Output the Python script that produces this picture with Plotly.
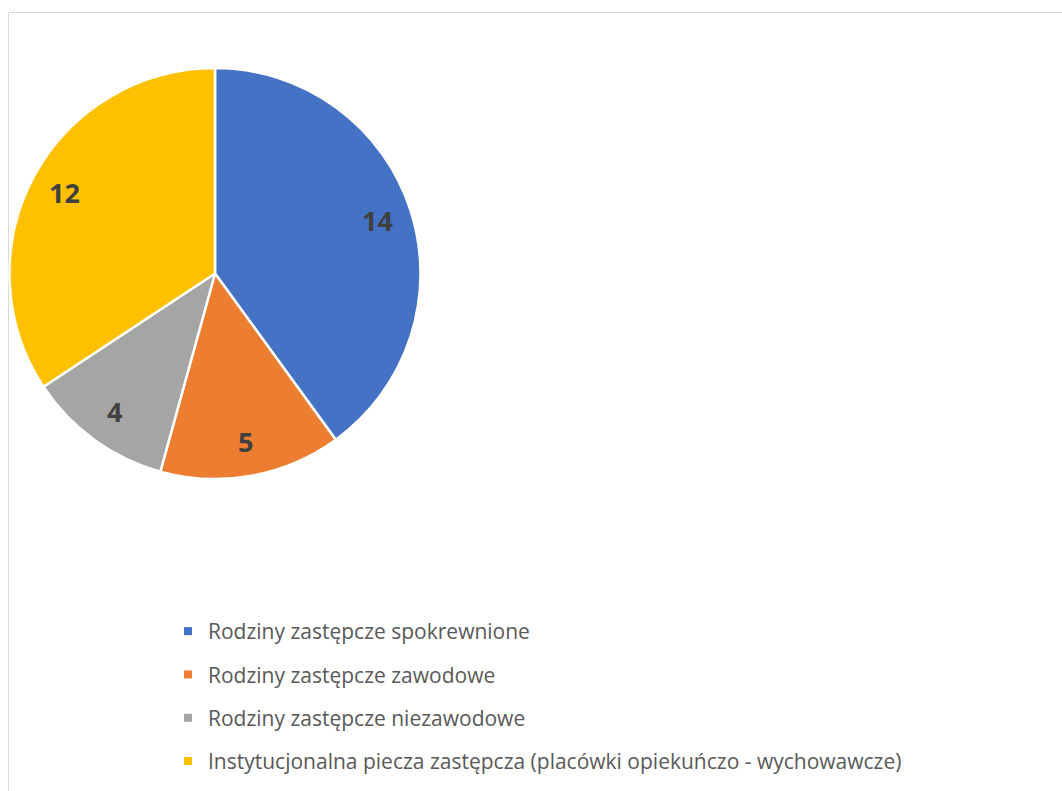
import math
import plotly.graph_objects as go

# Struktura pieczy zastępczej
categories = [
    "Rodziny zastępcze spokrewnione",
    "Rodziny zastępcze zawodowe",
    "Rodziny zastępcze niezawodowe",
    "Instytucjonalna piecza zastępcza (placówki opiekuńczo - wychowawcze)",
]
values = [14, 5, 4, 12]
colors = ["#4472C4", "#ED7D31", "#A5A5A5", "#FFC000"]

W, H = 1062, 791

# pie box in pixels (left, right, top, bottom)
PL, PR, PT, PB = 9, 421, 68, 479
CX, CY = (PL + PR) / 2, (PT + PB) / 2
R = (PR - PL) / 2

fig = go.Figure()

fig.add_trace(go.Pie(
    labels=categories,
    values=values,
    sort=False,
    direction="clockwise",
    rotation=0,
    marker=dict(colors=colors, line=dict(color="white", width=2.5)),
    textinfo="none",
    showlegend=False,
    hoverinfo="label+value",
    domain=dict(x=[PL / W, PR / W], y=[(H - PB) / H, (H - PT) / H]),
))

# value labels placed toward the outer edge of each slice
total = sum(values)
cum = 0
annotations = []
for v in values:
    mid = 2 * math.pi * (cum + v / 2) / total
    cum += v
    px = CX + 0.83 * R * math.sin(mid)
    py = CY - 0.83 * R * math.cos(mid)
    annotations.append(dict(
        x=px / W, y=(H - py) / H, xref="paper", yref="paper",
        text=str(v), showarrow=False, xanchor="center", yanchor="middle",
        font=dict(family="Open Sans", size=27, color="#404040", weight="bold"),
    ))

# Legend entries (one group per category for wider spacing)
for name, col in zip(categories, colors):
    fig.add_trace(go.Scatter(
        x=[None], y=[None], mode="markers", name=name,
        marker=dict(symbol="square", size=8, color=col),
        legendgroup=name, showlegend=True,
    ))

fig.update_layout(
    width=W, height=H,
    margin=dict(l=0, r=0, t=0, b=0),
    paper_bgcolor="white",
    plot_bgcolor="white",
    xaxis=dict(visible=False),
    yaxis=dict(visible=False),
    annotations=annotations,
    legend=dict(
        x=168 / W, xanchor="left",
        y=(H - 611) / H, yanchor="top",
        font=dict(family="Open Sans", size=21, color="#595959"),
        tracegroupgap=13,
        bgcolor="rgba(0,0,0,0)",
    ),
    shapes=[dict(
        type="rect", xref="paper", yref="paper",
        x0=8.5 / W, x1=1.02, y0=-0.02, y1=(H - 12.5) / H,
        line=dict(color="#D9D9D9", width=1), fillcolor="rgba(0,0,0,0)",
        layer="below",
    )],
)

fig.write_html("out.html")
